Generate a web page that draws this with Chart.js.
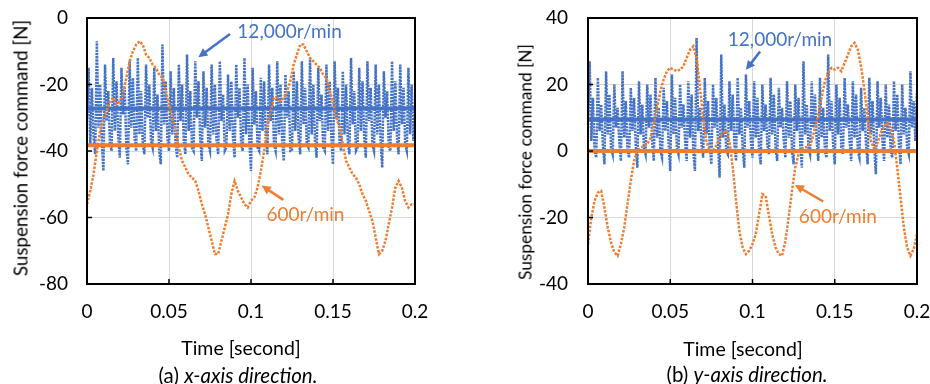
<!DOCTYPE html>
<html>
<head>
<meta charset="utf-8">
<script src="https://cdn.jsdelivr.net/npm/chart.js@4.4.1/dist/chart.umd.min.js"></script>
<style>
  body { margin: 0; background: #fff; width: 930px; height: 384px; position: relative; overflow: hidden; font-family: Lato, sans-serif; }
  canvas { position: absolute; top: 0; }
  .txt { position: absolute; white-space: nowrap; color: #000; transform: translate(-50%, -50%); }
  .ytitle { transform: translate(-50%, -50%) rotate(-90deg); }
</style>
</head>
<body>
<canvas id="chartX" width="465" height="384" style="left:0"></canvas>
<canvas id="chartY" width="425" height="384" style="left:505px"></canvas>

<div class="txt ytitle" style="left:20px; top:148px; font-size:18.8px">Suspension force command [N]</div>
<div class="txt ytitle" style="left:525px; top:162px; font-size:17.3px">Suspension force command [N]</div>
<div class="txt" style="left:241px; top:347px; font-size:19.5px">Time [second]</div>
<div class="txt" style="left:743px; top:348px; font-size:19.5px">Time [second]</div>
<div class="txt" style="left:238px; top:375px; font-size:20.5px">(a) <i>x-axis direction.</i></div>
<div class="txt" style="left:747px; top:374px; font-size:20.5px">(b) <i>y-axis direction.</i></div>

<script>
// sampling steps of the two recordings [s]
const BLUE_DT = 0.001;
const ORANGE_DT = 0.002;

// x-axis direction, 12,000 r/min (5 samples per rotor turn)
const blueX = [
  -30, -15, -38, -21, -36,
  -41, -7, -33, -20, -37,
  -46, -14, -31, -22, -38,
  -40, -12, -34, -19, -35,
  -42, -15, -29, -21, -39,
  -44, -13, -33, -18, -36,
  -40, -12, -35, -22, -38,
  -41, -14, -30, -20, -37,
  -39, -15, -34, -23, -40,
  -44, -8, -32, -19, -36,
  -40, -16, -35, -21, -38,
  -42, -14, -31, -20, -37,
  -41, -11, -34, -22, -39,
  -40, -13, -30, -19, -36,
  -43, -16, -33, -21, -38,
  -40, -14, -35, -20, -37,
  -41, -13, -31, -23, -40,
  -39, -17, -34, -19, -36,
  -42, -14, -30, -21, -38,
  -40, -12, -35, -20, -37,
  -46, -15, -32, -22, -39,
  -40, -18, -34, -19, -36,
  -41, -14, -31, -21, -38,
  -40, -13, -35, -20, -37,
  -43, -17, -30, -22, -40,
  -40, -16, -34, -19, -36,
  -41, -13, -32, -21, -38,
  -39, -12, -35, -20, -37,
  -42, -15, -31, -23, -39,
  -40, -14, -34, -19, -36,
  -44, -13, -30, -21, -38,
  -40, -16, -35, -20, -37,
  -41, -12, -32, -22, -40,
  -39, -15, -34, -19, -36,
  -42, -13, -31, -21, -38,
  -40, -14, -35, -20, -37,
  -45, -16, -30, -22, -39,
  -40, -13, -34, -19, -36,
  -41, -14, -32, -21, -38,
  -40, -15, -35, -20, -37,
  -28
];

// x-axis direction, 600 r/min
const orangeX = [
  -56, -52, -47, -40, -34, -30, -28, -25, -24, -26,
  -25, -23, -18, -13, -10, -8, -7, -8, -11, -12,
  -14, -15, -17, -18, -22, -26, -30, -34, -39, -43,
  -45, -47, -48, -49, -52, -56, -59, -63, -67, -71,
  -71, -67, -63, -59, -53, -49, -52, -54, -56, -57,
  -55, -54, -51, -46, -40, -33, -28, -24, -24, -25,
  -24, -22, -19, -14, -11, -8, -8, -10, -12, -13,
  -14, -15, -17, -18, -22, -25, -30, -33, -38, -43,
  -45, -47, -48, -50, -53, -55, -58, -61, -66, -71,
  -70, -67, -62, -57, -51, -49, -51, -55, -57, -56,
  -56
];

// y-axis direction, 12,000 r/min
const blueY = [
  10, 27, 3, 16, 0,
  -2, 22, 6, 14, 2,
  -4, 24, 5, 17, 1,
  -1, 20, 7, 13, 3,
  -3, 24, 4, 15, 0,
  -2, 19, 6, 16, 2,
  -5, 21, 5, 14, 1,
  -1, 20, 7, 17, 3,
  -3, 22, 4, 13, 0,
  -2, 19, 6, 15, 2,
  -6, 23, 5, 16, 1,
  -1, 20, 7, 14, 3,
  -3, 21, 4, 17, 0,
  -6, 34, 6, 13, 2,
  -2, 22, 5, 15, 1,
  -4, 20, 7, 16, 3,
  -8, 29, 4, 14, 0,
  -1, 21, 6, 17, 2,
  -3, 22, 5, 13, 1,
  -5, 23, 7, 15, 3,
  -2, 21, 4, 16, 0,
  -4, 20, 6, 14, 2,
  -1, 22, 5, 17, 1,
  -3, 19, 7, 13, 3,
  -2, 21, 4, 15, 0,
  -4, 20, 6, 16, 2,
  -5, 27, 5, 14, 1,
  -1, 21, 7, 17, 3,
  -3, 22, 4, 13, 0,
  -2, 29, 6, 15, 2,
  -4, 20, 5, 16, 1,
  -1, 22, 7, 14, 3,
  -3, 21, 4, 17, 0,
  -2, 19, 6, 13, 2,
  -4, 22, 5, 15, 1,
  -7, 21, 7, 16, 3,
  -3, 20, 4, 14, 0,
  -2, 21, 6, 17, 2,
  -4, 20, 5, 13, 1,
  -1, 24, 7, 15, 3,
  18
];

// y-axis direction, 600 r/min
const orangeY = [
  -28, -20, -15, -12.5, -12, -17, -23, -27.5, -30.5, -31.5,
  -28, -23, -16, -9, -3, 0, 1, 1.5, 2, 4,
  8, 13, 18, 21.5, 24, 25, 24.5, 24, 24.5, 25.5,
  28, 30.5, 31.5, 28, 19.5, 10, 3, 0, 0, 1.5,
  4, 5.5, 6, 3, -5, -15, -24, -29, -31, -30,
  -28, -25, -19, -13, -13.5, -19.5, -25, -29, -31, -31.5,
  -27, -20, -12, -5, -1, 0.5, 1, 1.5, 3, 7,
  11, 16, 21, 23.5, 25, 24.5, 25, 24, 26.5, 29,
  31.5, 32.5, 30.5, 25.5, 18.5, 10, 3, 0.5, 2.5, 5.5,
  7.5, 8.5, 7, 3, -5, -14, -23, -29, -31.5, -29.5,
  -25
];

// average levels drawn as thick lines
const meanX = { blue: -27.2, orange: -38.3 };
const meanY = { blue: 9.5, orange: 0 };

const xTicks = [0, 0.05, 0.1, 0.15, 0.2];
const yTicksX = [0, -20, -40, -60, -80];
const yTicksY = [40, 20, 0, -20, -40];

const BLUE = '#4472C4';
const ORANGE = '#ED7D31';

function toPoints(vals, dt) {
  return vals.map((v, i) => ({ x: +(i * dt).toFixed(4), y: v }));
}

// frame, inner tick marks and the speed labels with arrows
const framePlugin = {
  id: 'frame',
  afterDatasetsDraw(chart, args, opts) {
    const { ctx, chartArea: a, scales: { x, y } } = chart;
    ctx.save();
    (opts.notes || []).forEach(n => {
      const x1 = x.getPixelForValue(n.from[0]), y1 = y.getPixelForValue(n.from[1]);
      const x2 = x.getPixelForValue(n.to[0]), y2 = y.getPixelForValue(n.to[1]);
      const ang = Math.atan2(y2 - y1, x2 - x1);
      ctx.strokeStyle = n.color;
      ctx.fillStyle = n.color;
      ctx.lineWidth = 2.5;
      ctx.beginPath();
      ctx.moveTo(x1, y1);
      ctx.lineTo(x2 - 6 * Math.cos(ang), y2 - 6 * Math.sin(ang));
      ctx.stroke();
      ctx.beginPath();
      ctx.moveTo(x2, y2);
      ctx.lineTo(x2 - 9 * Math.cos(ang) + 4.5 * Math.sin(ang), y2 - 9 * Math.sin(ang) - 4.5 * Math.cos(ang));
      ctx.lineTo(x2 - 9 * Math.cos(ang) - 4.5 * Math.sin(ang), y2 - 9 * Math.sin(ang) + 4.5 * Math.cos(ang));
      ctx.closePath();
      ctx.fill();
      ctx.font = '19px Lato';
      ctx.textAlign = 'center';
      ctx.textBaseline = 'middle';
      ctx.fillText(n.text, x.getPixelForValue(n.at[0]), y.getPixelForValue(n.at[1]));
    });
    ctx.strokeStyle = '#000';
    ctx.lineWidth = 1.5;
    y.ticks.forEach(t => {
      const py = y.getPixelForValue(t.value);
      ctx.beginPath(); ctx.moveTo(a.left, py); ctx.lineTo(a.left + 5, py); ctx.stroke();
    });
    x.ticks.forEach(t => {
      const px = x.getPixelForValue(t.value);
      ctx.beginPath(); ctx.moveTo(px, a.bottom); ctx.lineTo(px, a.bottom - 5); ctx.stroke();
    });
    ctx.lineWidth = 2;
    ctx.strokeRect(a.left, a.top, a.right - a.left, a.bottom - a.top);
    ctx.restore();
  }
};

function noPad(s) {
  s.paddingTop = 0; s.paddingBottom = 0; s.paddingLeft = 0; s.paddingRight = 0;
}

function makeChart(id, blue, orange, mean, yMin, yMax, yTicks, axisW, tickPad, padRight, notes) {
  const ctx = document.getElementById(id).getContext('2d');
  return new Chart(ctx, {
    type: 'line',
    data: {
      datasets: [
        { data: [{ x: 0, y: mean.orange }, { x: 0.2, y: mean.orange }], borderColor: ORANGE, borderWidth: 4 },
        { data: toPoints(orange, ORANGE_DT), borderColor: ORANGE, borderWidth: 2.5, borderDash: [2.5, 1.5] },
        { data: [{ x: 0, y: mean.blue }, { x: 0.2, y: mean.blue }], borderColor: BLUE, borderWidth: 4 },
        { data: toPoints(blue, BLUE_DT), borderColor: BLUE, borderWidth: 2.5, borderDash: [2.2, 1] }
      ]
    },
    options: {
      responsive: false,
      animation: false,
      events: [],
      elements: { point: { radius: 0 }, line: { tension: 0, fill: false } },
      layout: { padding: { left: 0, right: padRight, top: 18, bottom: 0 } },
      plugins: { legend: { display: false }, tooltip: { enabled: false }, frame: { notes: notes } },
      scales: {
        x: {
          type: 'linear', min: 0, max: 0.2,
          afterBuildTicks: s => { s.ticks = xTicks.map(v => ({ value: v })); },
          afterFit: s => { s.height = 100; noPad(s); },
          grid: { color: '#d9d9d9', lineWidth: 1, drawTicks: false },
          border: { display: false },
          ticks: { padding: 16, color: '#000', font: { family: 'Lato', size: 19 }, maxRotation: 0,
                   callback: v => String(+v.toFixed(2)) }
        },
        y: {
          min: yMin, max: yMax,
          afterBuildTicks: s => { s.ticks = yTicks.map(v => ({ value: v })); },
          afterFit: s => { s.width = axisW; noPad(s); },
          grid: { color: '#d9d9d9', lineWidth: 1, drawTicks: false },
          border: { display: false },
          ticks: { padding: tickPad, color: '#000', font: { family: 'Lato', size: 19 } }
        }
      }
    },
    plugins: [framePlugin]
  });
}

makeChart('chartX', blueX, orangeX, meanX, -80, 0, yTicksX, 87, 19, 50, [
  { text: '12,000r/min', color: BLUE, at: [0.1235, -4.1], from: [0.0872, -4.8], to: [0.0679, -11.8] },
  { text: '600r/min', color: ORANGE, at: [0.1332, -59.2], from: [0.1197, -54.7], to: [0.1065, -50.4] }
]);
makeChart('chartY', blueY, orangeY, meanY, -40, 40, yTicksY, 83, 20, 13, [
  { text: '12,000r/min', color: BLUE, at: [0.1167, 33.4], from: [0.1046, 29.9], to: [0.096, 24.4] },
  { text: '600r/min', color: ORANGE, at: [0.1519, -19.8], from: [0.143, -15.2], to: [0.1258, -10.2] }
]);
</script>
</body>
</html>
